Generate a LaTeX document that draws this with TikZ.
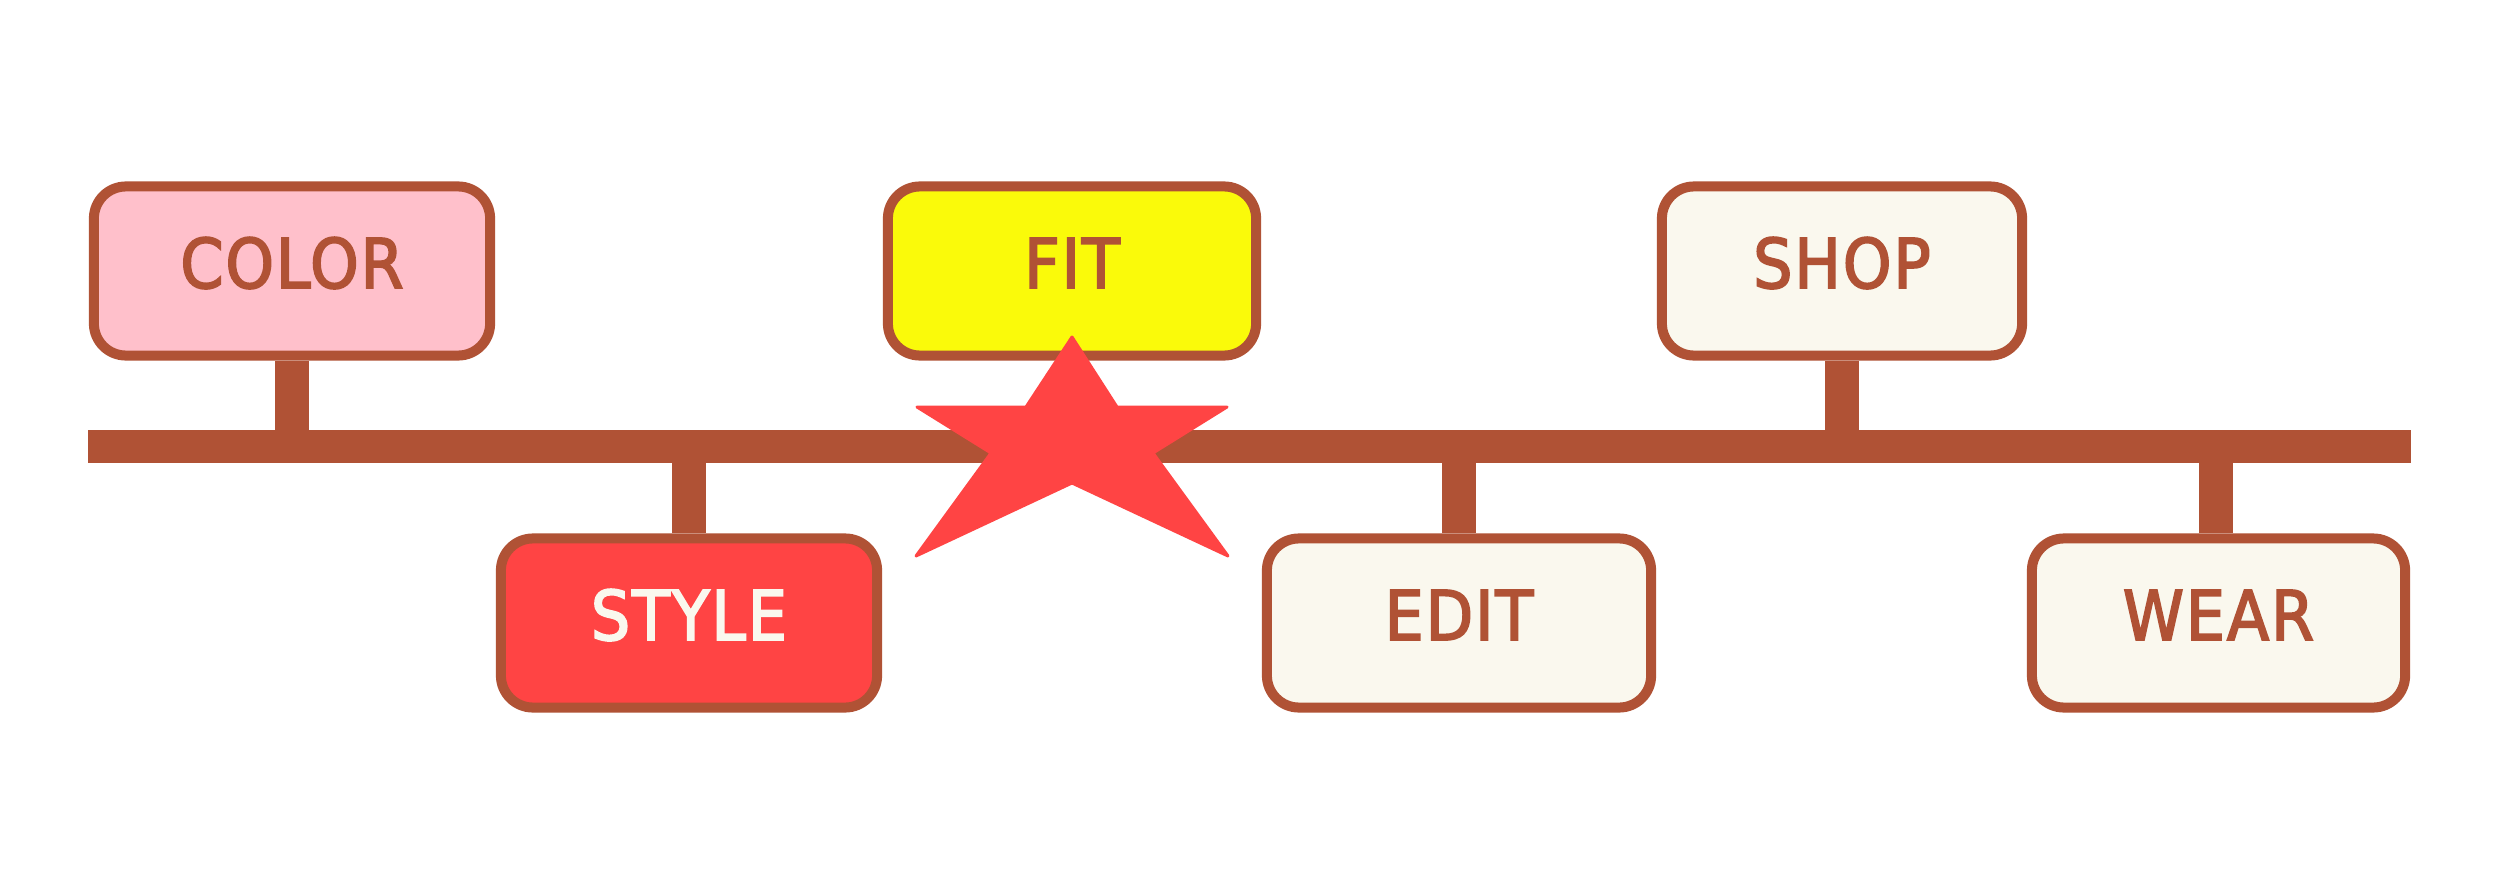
\documentclass[tikz,border=0pt]{standalone}
\usepackage{fontspec}
\setmainfont[FakeBold=2.6,LetterSpace=3]{DejaVu Sans Condensed}
\pgfdeclarelayer{background}
\pgfsetlayers{background,main}
\definecolor{brn}{HTML}{B05235}
\definecolor{pinkf}{HTML}{FFC0CB}
\definecolor{yelf}{HTML}{FAFA0A}
\definecolor{redf}{HTML}{FF4444}
\definecolor{crm}{HTML}{FAF8EE}
\tikzset{
  tag/.style={draw=brn, line width=0.1cm, rounded corners=0.32cm, rectangle,
    minimum height=1.69cm, inner sep=0pt, text=brn,
    font=\fontsize{19.5pt}{20pt}\selectfont, text height=0.5cm, text depth=0.16cm},
  stem/.style={draw=brn, line width=0.34cm},
  barstyle/.style={fill=brn, draw=none, rectangle, inner sep=0pt},
  starstyle/.style={fill=redf, draw=redf, line width=0.03cm, line join=round}
}
\begin{document}
\begin{tikzpicture}[x=0.01cm, y=-0.01cm]
\useasboundingbox (0,0) rectangle (2500,894);
% bar
\node[barstyle, minimum width=23.21cm, minimum height=0.33cm] (bar) at (1249.5,446.5) {};
% boxes
\node[tag, fill=pinkf, minimum width=3.96cm] (color) at (292,271) {COLOR};
\node[tag, fill=yelf, minimum width=3.68cm] (fit) at (1072,271) {FIT};
\node[tag, fill=crm, minimum width=3.60cm] (shop) at (1842,271) {SHOP};
\node[tag, fill=redf, text=crm, minimum width=3.76cm] (style) at (689,623) {STYLE};
\node[tag, fill=crm, minimum width=3.84cm] (edit) at (1459,623) {EDIT};
\node[tag, fill=crm, minimum width=3.73cm] (wear) at (2218.5,623) {WEAR};
% stems
\begin{pgfonlayer}{background}
\fill[white] (0,0) rectangle (2500,894);
\draw[stem] (color.south) -- (color.south |- bar.center);
\draw[stem] (shop.south) -- (shop.south |- bar.center);
\draw[stem] (style.north) -- (style.north |- bar.center);
\draw[stem] (edit.north) -- (edit.north |- bar.center);
\draw[stem] ([xshift=-0.025cm]wear.north) -- ([xshift=-0.025cm]wear.north |- bar.center);
\end{pgfonlayer}
% star
\draw[starstyle] (1072,337) -- (1117,407) -- (1227,407) -- (1153,453) -- (1228,556)
  -- (1072,483) -- (916,556) -- (991,453) -- (917,407) -- (1026,407) -- cycle;
\end{tikzpicture}
\end{document}
